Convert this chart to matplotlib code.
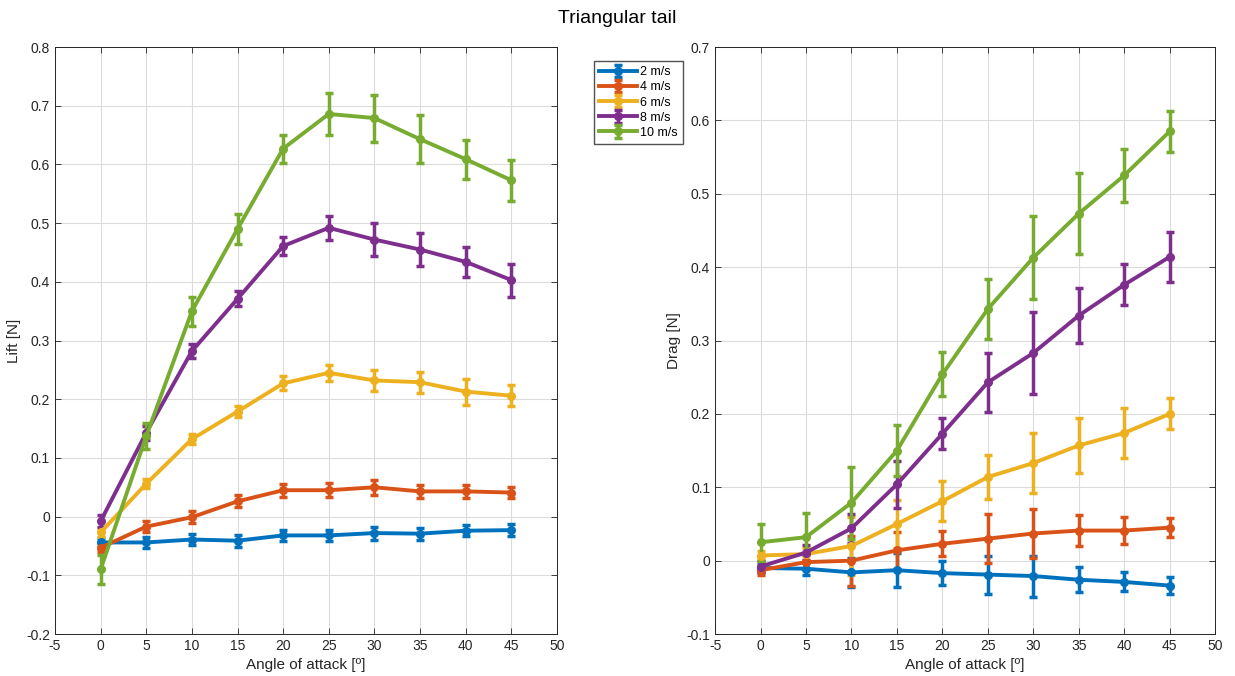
import numpy as np
import matplotlib
matplotlib.use('Agg')
import matplotlib.pyplot as plt

plt.rcParams['font.family'] = ['Liberation Sans', 'DejaVu Sans']
plt.rcParams['axes.unicode_minus'] = False

# angle of attack (deg)
angles = [0, 5, 10, 15, 20, 25, 30, 35, 40, 45]
speeds = ['2 m/s', '4 m/s', '6 m/s', '8 m/s', '10 m/s']
colors = ['#0072BD', '#D95319', '#EDB120', '#7E2F8E', '#77AC30']

# lift [N] and its error per speed
lift = [
    [-0.044, -0.044, -0.039, -0.041, -0.032, -0.032, -0.028, -0.029, -0.024, -0.023],
    [-0.053, -0.017, -0.001, 0.026, 0.045, 0.045, 0.050, 0.043, 0.043, 0.041],
    [-0.027, 0.056, 0.132, 0.179, 0.227, 0.245, 0.232, 0.229, 0.213, 0.206],
    [-0.008, 0.143, 0.282, 0.371, 0.461, 0.492, 0.472, 0.455, 0.434, 0.403],
    [-0.090, 0.137, 0.350, 0.490, 0.627, 0.686, 0.679, 0.643, 0.609, 0.573],
]
lift_err = [
    [0.008, 0.010, 0.009, 0.010, 0.009, 0.010, 0.011, 0.010, 0.009, 0.010],
    [0.008, 0.010, 0.010, 0.010, 0.011, 0.012, 0.013, 0.011, 0.011, 0.010],
    [0.008, 0.008, 0.008, 0.009, 0.012, 0.014, 0.018, 0.018, 0.022, 0.018],
    [0.010, 0.012, 0.012, 0.013, 0.016, 0.020, 0.028, 0.028, 0.025, 0.028],
    [0.025, 0.022, 0.025, 0.026, 0.024, 0.036, 0.040, 0.041, 0.033, 0.035],
]

# drag [N] and its error per speed
drag = [
    [-0.010, -0.011, -0.016, -0.013, -0.017, -0.019, -0.021, -0.026, -0.029, -0.034],
    [-0.013, -0.002, 0.000, 0.014, 0.023, 0.030, 0.037, 0.041, 0.041, 0.045],
    [0.007, 0.009, 0.020, 0.050, 0.081, 0.114, 0.133, 0.157, 0.174, 0.200],
    [-0.008, 0.011, 0.044, 0.104, 0.173, 0.243, 0.283, 0.334, 0.376, 0.414],
    [0.025, 0.032, 0.079, 0.150, 0.254, 0.343, 0.413, 0.473, 0.525, 0.585],
]
drag_err = [
    [0.006, 0.008, 0.020, 0.023, 0.016, 0.026, 0.028, 0.017, 0.013, 0.012],
    [0.006, 0.010, 0.034, 0.025, 0.017, 0.033, 0.034, 0.021, 0.018, 0.013],
    [0.006, 0.008, 0.040, 0.033, 0.027, 0.030, 0.041, 0.038, 0.034, 0.021],
    [0.008, 0.010, 0.020, 0.032, 0.021, 0.040, 0.056, 0.038, 0.028, 0.034],
    [0.025, 0.033, 0.049, 0.035, 0.030, 0.041, 0.057, 0.055, 0.036, 0.028],
]

fig = plt.figure(figsize=(12.35, 6.76), dpi=100)
ax1 = fig.add_axes([0.0445, 0.0621, 0.4065, 0.8683])
ax2 = fig.add_axes([0.579, 0.0621, 0.4049, 0.8683])

handles = []
for i in range(len(speeds)):
    h = ax1.errorbar(angles, lift[i], yerr=lift_err[i], color=colors[i], lw=2.8,
                     marker='o', ms=5.5, capsize=3, capthick=2.5, elinewidth=2.5,
                     label=speeds[i])
    handles.append(h)
    ax2.errorbar(angles, drag[i], yerr=drag_err[i], color=colors[i], lw=2.8,
                 marker='o', ms=5.5, capsize=3, capthick=2.5, elinewidth=2.5)

def style(ax, ylim, ylabel):
    ax.set_xlim(-5, 50)
    ax.set_xticks(np.arange(-5, 51, 5))
    ax.set_ylim(*ylim)
    ax.set_yticks(np.round(np.arange(ylim[0], ylim[1] + 0.001, 0.1), 1))
    ax.yaxis.set_major_formatter(matplotlib.ticker.FuncFormatter(
        lambda v, p: '0' if abs(v) < 1e-9 else f'{v:g}'))
    ax.grid(True, color='#dcdcdc', lw=0.8)
    ax.set_axisbelow(True)
    for s in ax.spines.values():
        s.set_color('#262626')
        s.set_linewidth(0.7)
    ax.tick_params(direction='in', length=4, width=0.6, colors='#262626',
                   labelsize=10, top=True, right=True)
    ax.set_xlabel('Angle of attack [º]', fontsize=11, color='#262626')
    ax.set_ylabel(ylabel, fontsize=11, color='#262626')

style(ax1, (-0.2, 0.8), 'Lift [N]')
style(ax2, (-0.1, 0.7), 'Drag [N]')

fig.suptitle('Triangular tail', fontsize=14, y=0.985)
fig.legend(handles=handles, loc='upper left', bbox_to_anchor=(588 / 1235, 1 - 55 / 676),
           fontsize=9, frameon=True, fancybox=False, edgecolor='#262626',
           handlelength=3, borderpad=0.4, labelspacing=0.25, handletextpad=0.3)

fig.savefig('out.png', dpi=100)
